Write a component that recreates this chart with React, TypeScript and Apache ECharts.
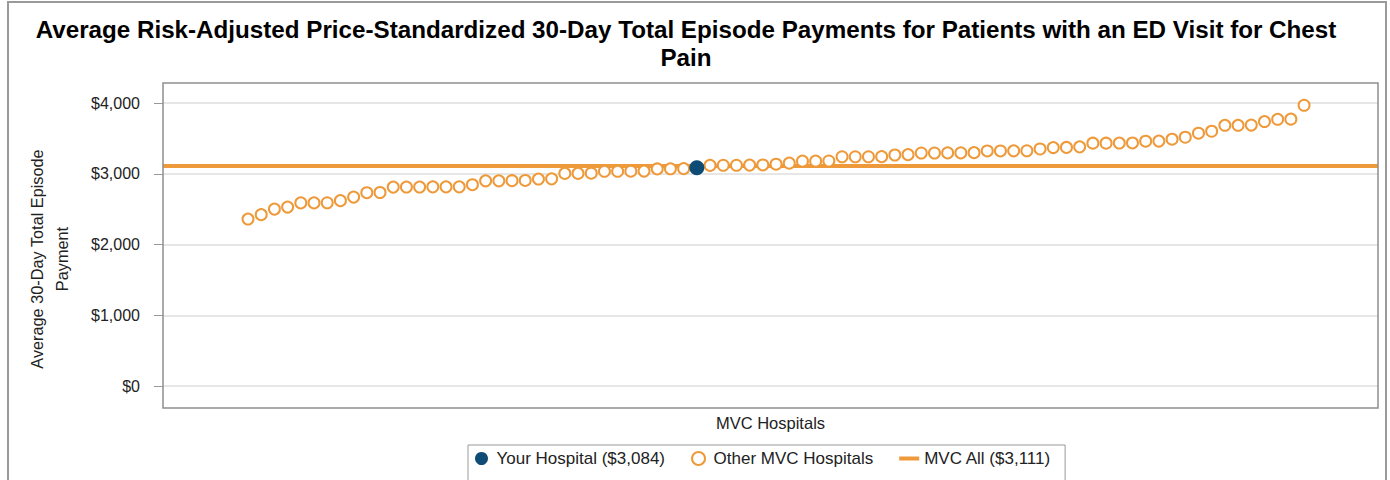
import React, { useEffect, useRef } from "react";
import * as echarts from "echarts";

const titleText =
  "Average Risk-Adjusted Price-Standardized 30-Day Total Episode Payments for Patients with an ED Visit for Chest\nPain";
const yAxisTitle = "Average 30-Day Total Episode\nPayment";
const xAxisTitle = "MVC Hospitals";
const yTickValues = [0, 1000, 2000, 3000, 4000];

// all hospitals, sorted by payment (rank 1..81)
const hospitalValues = [
  2360, 2422, 2500, 2529, 2588, 2588, 2590, 2620, 2670, 2732,
  2735, 2811, 2812, 2812, 2815, 2815, 2815, 2845, 2900, 2900,
  2902, 2905, 2925, 2928, 3005, 3005, 3008, 3035, 3035, 3036,
  3038, 3068, 3070, 3072, 3084, 3118, 3120, 3120, 3122, 3124,
  3135, 3150, 3178, 3178, 3180, 3240, 3240, 3240, 3242, 3265,
  3270, 3293, 3293, 3295, 3295, 3298, 3322, 3322, 3324, 3325,
  3350, 3370, 3372, 3380, 3432, 3432, 3434, 3435, 3460, 3462,
  3488, 3516, 3573, 3601, 3685, 3685, 3688, 3738, 3770, 3772,
  3968,
];
const yourHospitalRank = 35;
const yourHospitalValue = 3084;
const mvcAllValue = 3111;

const legendYour = "Your Hospital ($3,084)";
const legendOther = "Other MVC Hospitals";
const legendAll = "MVC All ($3,111)";

const ORANGE = "#EE9A3A";
const BLUE = "#0E4C76";
const FONT = '"Liberation Sans", Arial, sans-serif';

const X_MIN = -5.44;
const X_MAX = 86.6;

function fmtMoney(v: number): string {
  const s = Math.round(v).toString();
  return "$" + s.replace(/\B(?=(\d{3})+(?!\d))/g, ",");
}

export default function App() {
  const ref = useRef<HTMLDivElement>(null);

  useEffect(() => {
    if (!ref.current) return;
    const chart = echarts.init(ref.current, undefined, { renderer: "svg" });

    const otherData: [number, number][] = [];
    hospitalValues.forEach((v, i) => {
      if (i + 1 !== yourHospitalRank) otherData.push([i + 1, v]);
    });
    const yourData: [number, number][] = [[yourHospitalRank, yourHospitalValue]];

    chart.setOption({
      animation: false,
      textStyle: { fontFamily: FONT },
      grid: { left: 163, right: 12, top: 103, bottom: 94, containLabel: false },
      xAxis: {
        type: "value",
        min: X_MIN,
        max: X_MAX,
        name: xAxisTitle,
        nameLocation: "middle",
        nameGap: 28,
        nameTextStyle: { fontSize: 16.5, color: "#222", fontFamily: FONT },
        axisLine: { show: false, onZero: false },
        axisTick: { show: false },
        axisLabel: { show: false },
        splitLine: { show: false },
      },
      yAxis: {
        type: "value",
        min: yTickValues[0],
        max: yTickValues[yTickValues.length - 1],
        interval: 1000,
        position: "left",
        axisLine: { show: false, onZero: false },
        axisTick: { show: true, length: 9, lineStyle: { color: "#999", width: 1 } },
        axisLabel: {
          margin: 23,
          fontSize: 16,
          color: "#222",
          fontFamily: FONT,
          formatter: (v: number) => fmtMoney(v),
        },
        splitLine: { show: true, lineStyle: { color: "#e6e6e6", width: 2 } },
      },
      legend: {
        left: 468,
        top: 445,
        orient: "horizontal",
        itemWidth: 20,
        itemHeight: 13,
        itemGap: 26,
        padding: [5, 14, 20, 7],
        borderColor: "#999",
        borderWidth: 1,
        textStyle: { fontSize: 17, color: "#222", fontFamily: FONT },
        data: [
          { name: legendYour, icon: "circle" },
          { name: legendOther, icon: "circle" },
          { name: legendAll, icon: "path://M0,0 L20,0 L20,4 L0,4 Z" },
        ],
      },
      graphic: [
        {
          type: "rect",
          silent: true,
          z: 100,
          shape: { x: 8, y: 2, width: 1378, height: 540 },
          style: { fill: "none", stroke: "#9a9a9a", lineWidth: 2 },
        },
        {
          type: "rect",
          silent: true,
          z: 100,
          shape: { x: 163, y: 83, width: 1215, height: 325 },
          style: { fill: "none", stroke: "#8f8f8f", lineWidth: 1.5 },
        },
        {
          type: "text",
          silent: true,
          x: 686,
          y: 15,
          style: {
            text: titleText,
            fontSize: 24.2,
            fontWeight: "bold",
            fontFamily: FONT,
            fill: "#000",
            align: "center",
            verticalAlign: "top",
            lineHeight: 28,
          },
        },
        {
          type: "text",
          silent: true,
          x: 49.5,
          y: 259,
          rotation: Math.PI / 2,
          style: {
            text: yAxisTitle,
            fontSize: 16.3,
            fontFamily: FONT,
            fill: "#222",
            align: "center",
            verticalAlign: "middle",
            lineHeight: 25,
          },
        },
      ],
      series: [
        {
          name: legendAll,
          type: "line",
          data: [
            [X_MIN, mvcAllValue],
            [X_MAX, mvcAllValue],
          ],
          showSymbol: false,
          symbol: "none",
          color: ORANGE,
          lineStyle: { color: ORANGE, width: 4 },
          z: 1,
          silent: true,
        },
        {
          name: legendOther,
          type: "scatter",
          data: otherData,
          symbol: "circle",
          symbolSize: 11,
          itemStyle: { color: "#ffffff", borderColor: ORANGE, borderWidth: 2, opacity: 1 },
          z: 3,
        },
        {
          name: legendYour,
          type: "scatter",
          data: yourData,
          symbol: "circle",
          symbolSize: 15,
          itemStyle: { color: BLUE, opacity: 1 },
          z: 4,
        },
      ],
    });

    return () => chart.dispose();
  }, []);

  return (
    <div
      ref={ref}
      style={{ position: "absolute", left: 0, top: 0, width: 1390, height: 480 }}
    />
  );
}
